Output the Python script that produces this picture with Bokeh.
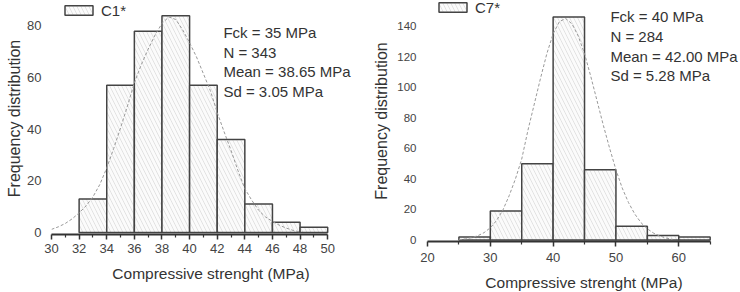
from bokeh.plotting import figure
from bokeh.layouts import row
from bokeh.models import FixedTicker, Legend, LegendItem, Label, Range1d
from bokeh.embed import file_html
from bokeh.resources import INLINE

# ---------------- data: C1* ----------------
c1_name = "C1*"
c1_bin_start = [32, 34, 36, 38, 40, 42, 44, 46, 48]
c1_bin_width = 2
c1_counts = [13, 57, 78, 84, 57, 36, 11, 4, 2]
c1_curve_x = [30, 30.5, 31, 31.5, 32, 32.5, 33, 33.5, 34, 34.5, 35, 35.5, 36, 36.5,
              37, 37.5, 38, 38.5, 39, 39.5, 40, 40.5, 41, 41.5, 42, 42.5, 43, 43.5,
              44, 44.5, 45, 45.5, 46, 46.5, 47, 47.5, 48]
c1_curve_y = [1.2, 2.2, 3.5, 5.3, 7.6, 10.3, 13.8, 18.6, 25, 32.5, 40.5, 49, 58, 65,
              71, 76.5, 81, 83.5, 82.5, 78.5, 73.5, 68, 61.5, 55, 46.5, 39, 31.8, 24,
              17, 12.5, 8.6, 6, 4.3, 2.8, 1.7, 0.8, 0.2]
c1_stats = ["Fck = 35 MPa", "N = 343", "Mean = 38.65 MPa", "Sd = 3.05 MPa"]
c1_xticks = [30, 32, 34, 36, 38, 40, 42, 44, 46, 48, 50]
c1_xminor = [31, 33, 35, 37, 39, 41, 43, 45, 47, 49]
c1_yticks = [0, 20, 40, 60, 80]

# ---------------- data: C7* ----------------
c7_name = "C7*"
c7_bin_start = [25, 30, 35, 40, 45, 50, 55, 60]
c7_bin_width = 5
c7_counts = [2, 19, 50, 146, 46, 9, 3, 2]
c7_curve_x = [25, 26, 27, 28, 29, 30, 31, 32, 33, 34, 35, 36, 37, 38, 39, 40, 41, 42,
              43, 44, 45, 46, 47, 48, 49, 50, 51, 52, 53, 54, 55, 56, 57, 58, 59]
c7_curve_y = [0.2, 0.7, 1.5, 2.8, 4.8, 8.0, 12.8, 19.6, 29, 40, 53, 72, 89, 106, 122,
              135, 143, 145, 141.5, 133.5, 122, 107, 91, 75, 60, 46, 34, 24.5, 17,
              11.3, 7.3, 4.5, 2.6, 1.3, 0.4]
c7_stats = ["Fck = 40 MPa", "N = 284", "Mean = 42.00 MPa", "Sd = 5.28 MPa"]
c7_xticks = [20, 30, 40, 50, 60]
c7_xminor = [25, 35, 45, 55, 65]
c7_yticks = [0, 20, 40, 60, 80, 100, 120, 140]

x_title = "Compressive strenght (MPa)"
y_title = "Frequency distribution"

FONT = "Liberation Sans"
TXT = "#333333"


def panel(name, bins, bw, counts, cx, cy, stats, xticks, xminor, yticks,
          xr, yr, border_left, border_top, frame_h, xbounds, ybounds, leg_loc,
          stat_x, stat_y0, stat_step, x_std, y_std, ylab_size):
    p = figure(width=370, frame_height=frame_h, output_backend="svg",
               toolbar_location=None,
               x_range=Range1d(*xr), y_range=Range1d(*yr),
               min_border_left=border_left, min_border_right=0,
               min_border_top=border_top, min_border_bottom=10)
    p.frame_align = False
    p.outline_line_color = None
    p.grid.visible = False
    p.background_fill_color = "white"
    p.border_fill_color = "white"

    rights = [b + bw for b in bins]
    q = p.quad(left=bins, right=rights, top=counts, bottom=0,
               fill_color="#fbfbfb", line_color="#444444", line_width=1.5,
               hatch_pattern="\\", hatch_color="#dcdcdc", hatch_scale=8,
               hatch_weight=0.8)
    p.line(cx, cy, line_color="#999999", line_width=1, line_dash="3 2")

    xa = p.xaxis[0]
    xa.ticker = FixedTicker(ticks=xticks, minor_ticks=xminor)
    xa.bounds = xbounds
    xa.axis_line_color = "#333333"
    xa.axis_line_width = 2
    xa.major_tick_line_color = "#333333"
    xa.major_tick_line_width = 1.5
    xa.minor_tick_line_color = "#333333"
    xa.minor_tick_line_width = 1.2
    xa.major_tick_in = 0
    xa.major_tick_out = 5
    xa.minor_tick_in = 0
    xa.minor_tick_out = 3
    xa.major_label_standoff = x_std[0]
    xa.major_label_text_font = FONT
    xa.major_label_text_font_size = "13px"
    xa.major_label_text_color = "#444444"
    xa.axis_label = x_title
    xa.axis_label_standoff = x_std[1]
    xa.axis_label_text_font = FONT
    xa.axis_label_text_font_size = "15.5px"
    xa.axis_label_text_font_style = "normal"
    xa.axis_label_text_color = TXT

    ya = p.yaxis[0]
    ya.ticker = FixedTicker(ticks=yticks)
    ya.bounds = ybounds
    ya.axis_line_color = None
    ya.major_tick_line_color = None
    ya.minor_tick_line_color = None
    ya.major_tick_in = 0
    ya.major_tick_out = 0
    ya.major_label_standoff = y_std[0]
    ya.major_label_text_font = FONT
    ya.major_label_text_font_size = ylab_size
    ya.major_label_text_color = "#444444"
    ya.axis_label = y_title
    ya.axis_label_standoff = y_std[1]
    ya.axis_label_text_font = FONT
    ya.axis_label_text_font_size = "16px"
    ya.axis_label_text_font_style = "normal"
    ya.axis_label_text_color = TXT

    leg = Legend(items=[LegendItem(label=name, renderers=[q])], location=leg_loc,
                 glyph_width=35, glyph_height=12, label_height=12, label_width=20,
                 padding=0, margin=0, spacing=0, label_standoff=5,
                 border_line_color=None, background_fill_alpha=0,
                 label_text_font=FONT, label_text_font_size="15px",
                 label_text_color=TXT)
    p.add_layout(leg)

    for i, s in enumerate(stats):
        p.add_layout(Label(x=stat_x, y=stat_y0 - i * stat_step, text=s,
                           text_baseline="middle", text_align="left",
                           text_font=FONT, text_font_size="15px",
                           text_color=TXT))
    return p


left = panel(c1_name, c1_bin_start, c1_bin_width, c1_counts, c1_curve_x, c1_curve_y,
             c1_stats, c1_xticks, c1_xminor, c1_yticks,
             xr=(30, 53.1), yr=(-0.78, 89.1), border_left=51, border_top=2,
             frame_h=232, xbounds=(30, 50), ybounds=(-0.78, 86.8),
             leg_loc=(10, 215.5), stat_x=42.45, stat_y0=77.5, stat_step=7.6,
             x_std=(4, 9), y_std=(10, 1), ylab_size="13px")

right = panel(c7_name, c7_bin_start, c7_bin_width, c7_counts, c7_curve_x, c7_curve_y,
              c7_stats, c7_xticks, c7_xminor, c7_yticks,
              xr=(20, 69.83), yr=(-0.98, 156.8), border_left=57, border_top=0,
              frame_h=241, xbounds=(20, 65), ybounds=(-0.98, 144.4),
              leg_loc=(8, 225.5), stat_x=49.12, stat_y0=146.4, stat_step=13.0,
              x_std=(6, 9), y_std=(11, 4), ylab_size="11.5px")

layout = row(left, right, spacing=0)
open("out.html", "w").write(file_html(layout, INLINE))
